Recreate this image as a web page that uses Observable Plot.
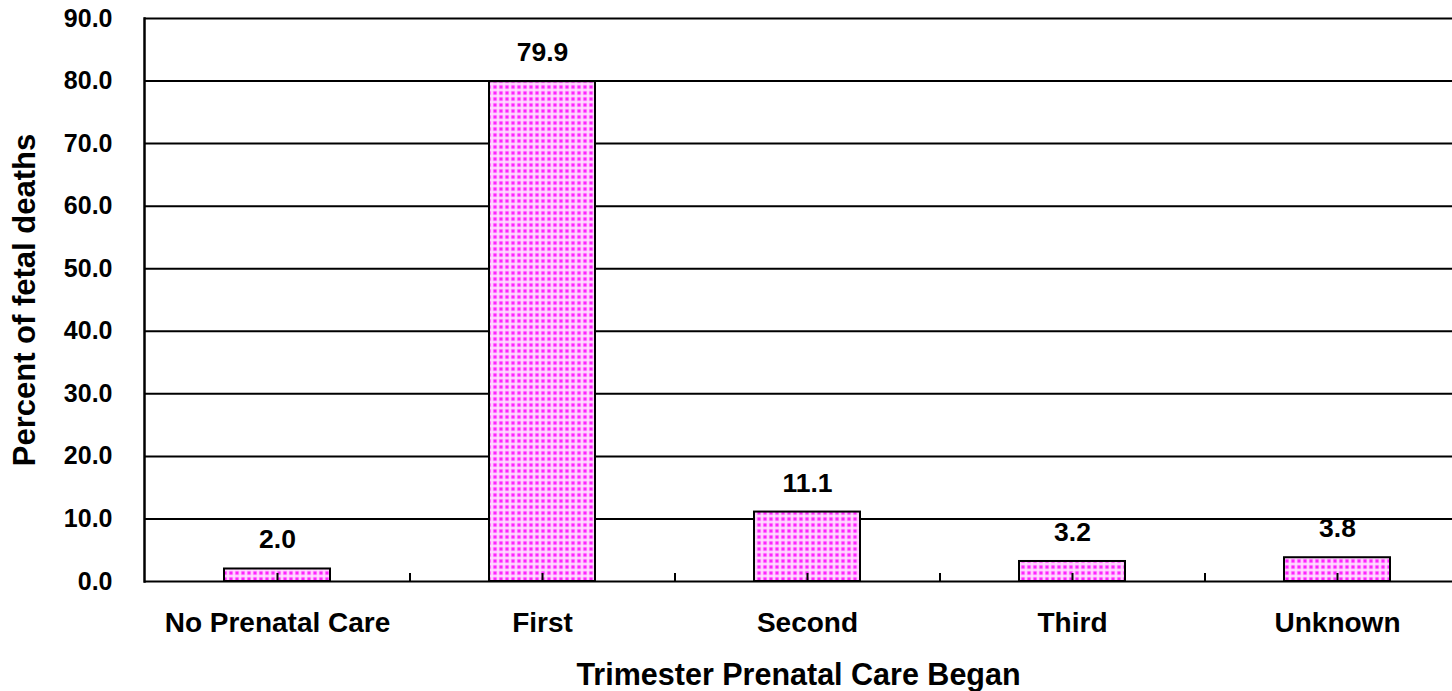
<!DOCTYPE html>
<html>
<head>
<meta charset="utf-8">
<script src="https://cdn.jsdelivr.net/npm/d3@7"></script>
<script src="https://cdn.jsdelivr.net/npm/@observablehq/plot@0.6"></script>
<style>
  html, body { margin: 0; padding: 0; background: #fff; }
  #chart svg { display: block; }
</style>
</head>
<body>
<div id="chart"></div>
<script>
const categories = ["No Prenatal Care", "First", "Second", "Third", "Unknown"];
const values = [2.0, 79.9, 11.1, 3.2, 3.8];
const yTicks = [0, 10, 20, 30, 40, 50, 60, 70, 80, 90];
const xTitle = "Trimester Prenatal Care Began";
const yTitle = "Percent of fetal deaths";

const data = categories.map((c, i) => ({category: c, value: values[i]}));

const W = 1452, H = 691;
const mLeft = 144, mTop = 18, mBottom = 110;
const step = 265;
const xRange = [mLeft, mLeft + step * categories.length];
const tickLenUnits = 90 * 8 / (H - mTop - mBottom);
const boundaryTicks = categories.slice(0, -1).map(c => ({category: c, lo: 0, hi: tickLenUnits}));

const patternDefs = () => {
  const g = d3.create("svg:g");
  const p = g.append("defs").append("pattern")
    .attr("id", "dots").attr("patternUnits", "userSpaceOnUse")
    .attr("width", 6).attr("height", 6);
  p.append("rect").attr("width", 6).attr("height", 6).attr("fill", "#ffe8ff");
  p.append("rect").attr("x", 0.5).attr("y", 0.5).attr("width", 5).attr("height", 5).attr("fill", "#ffb4ff");
  p.append("rect").attr("x", 1.5).attr("y", 1.5).attr("width", 3).attr("height", 3).attr("fill", "#ff22ff");
  return g.node();
};

const fontFamily = "'Liberation Sans', Arial, sans-serif";

const chart = Plot.plot({
  width: W,
  height: H,
  marginLeft: mLeft,
  marginTop: mTop,
  marginBottom: mBottom,
  marginRight: 0,
  style: {fontFamily, fontWeight: "bold", color: "#000", background: "#fff", overflow: "hidden"},
  x: {type: "band", domain: categories, range: xRange, paddingInner: 0.6, paddingOuter: 0.3, label: null},
  y: {domain: [0, 90], label: null},
  marks: [
    patternDefs,
    Plot.ruleY(yTicks, {stroke: "#000", strokeWidth: 2}),
    Plot.barY(data, {x: "category", y: "value", fill: "url(#dots)", stroke: "#000", strokeWidth: 2}),
    Plot.axisX({tickSize: -8, strokeWidth: 2, tickPadding: 39, fontSize: 28, fontWeight: "bold"}),
    Plot.ruleX(boundaryTicks, {x: "category", y1: "lo", y2: "hi", dx: step / 2, stroke: "#000", strokeWidth: 2}),
    Plot.axisY({ticks: yTicks, tickSize: 0, tickPadding: 32, tickFormat: d => d.toFixed(1), fontSize: 25, fontWeight: "bold"}),
    Plot.frame({anchor: "left", strokeWidth: 2.5}),
    Plot.text(data, {x: "category", y: "value", text: d => d.value.toFixed(1), dy: -29, fontSize: 26.5, fontWeight: "bold", fill: "#000"}),
    Plot.text([xTitle], {frameAnchor: "bottom", lineAnchor: "middle", dy: 94, fontSize: 30.5, fontWeight: "bold", fill: "#000"}),
    Plot.text([yTitle], {frameAnchor: "left", textAnchor: "middle", lineAnchor: "middle", dx: -119, rotate: -90, fontSize: 31, fontWeight: "bold", fill: "#000"})
  ]
});
document.getElementById("chart").appendChild(chart);
</script>
</body>
</html>
